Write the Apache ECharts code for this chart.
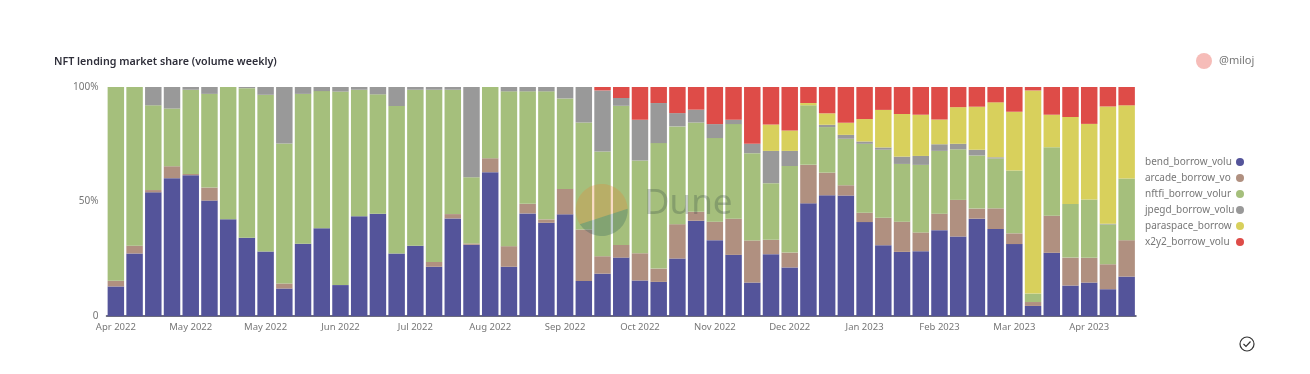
<!DOCTYPE html>
<html><head><meta charset="utf-8">
<style>html,body{margin:0;padding:0;background:#fff}#c{width:1310px;height:374px}</style>
<script src="https://cdn.jsdelivr.net/npm/echarts@6/dist/echarts.min.js"></script>
</head><body><div id="c"></div>
<script>
const months = ["Apr 2022","Apr 2022","Apr 2022","Apr 2022","May 2022","May 2022","May 2022","May 2022","May 2022","Jun 2022","Jun 2022","Jun 2022","Jun 2022","Jul 2022","Jul 2022","Jul 2022","Jul 2022","Aug 2022","Aug 2022","Aug 2022","Aug 2022","Aug 2022","Sep 2022","Sep 2022","Sep 2022","Oct 2022","Oct 2022","Oct 2022","Oct 2022","Oct 2022","Nov 2022","Nov 2022","Nov 2022","Nov 2022","Dec 2022","Dec 2022","Dec 2022","Dec 2022","Jan 2023","Jan 2023","Jan 2023","Jan 2023","Jan 2023","Feb 2023","Feb 2023","Feb 2023","Feb 2023","Mar 2023","Mar 2023","Mar 2023","Mar 2023","Apr 2023","Apr 2023","Apr 2023","Apr 2023"];
const categories = months.map((m,i)=>m+" w"+i);
const bend = [12.9,27.3,54,60.2,61.5,50.4,42.3,34.2,28.2,12,31.6,38.3,13.5,43.6,44.6,27.3,30.7,21.5,42.6,31.1,62.8,21.5,44.8,40.7,44.4,15.3,18.5,25.5,15.5,14.9,25.1,41.6,33.1,26.7,14.6,27,21.2,49.2,52.7,52.6,41,30.9,28,28.3,37.5,34.7,42.5,38,31.4,4.4,27.6,13.3,14.6,11.7,17.2];
const arcade = [2.5,3.4,1,5.2,0.5,5.7,0,0,0,2.2,0,0,0,0,0,0,0,2.1,1.9,0.6,6.1,9,4.2,1.5,11.1,22.5,7.6,5.5,11.9,5.8,15,3.9,8.1,15.8,18.4,6.3,6.5,16.8,9.9,4.5,4.1,12,13.2,8.2,7.2,16,4.4,9,4.7,1.7,16.2,12.2,10.8,10.9,15.9];
const nftfi = [84.6,69.3,37,25.2,36.8,40.9,57.7,65.3,68.4,61.1,65.4,59.9,84.5,55.2,52.2,64.4,68.1,75.2,54.3,28.9,31.1,67.6,49.1,55.9,39.5,46.7,45.7,60.8,40.5,54.8,42.7,39,36.5,41.3,38.1,24.7,37.8,26,19.9,20.3,30.1,29.7,25.2,29.5,27.4,22.1,23.2,21.8,27.4,3.7,29.9,23.4,25.5,17.4,26.9];
const jpegd = [0,0,8,9.4,1.2,3,0,0.5,3.4,24.7,3,1.8,2,1.2,3.2,8.3,1.2,1.2,1.2,39.4,0,1.9,1.9,1.9,5,15.5,26.7,3.4,17.8,17.5,5.8,5.6,6.1,1.9,4.1,14.1,6.6,0,1,1.7,1,1,3.2,3.9,2.9,2.4,2.5,0.5,0,0,0,0,0,0.3,0];
const paraspace = [0,0,0,0,0,0,0,0,0,0,0,0,0,0,0,0,0,0,0,0,0,0,0,0,0,0,0,0,0,0,0,0,0,0,0,11.5,8.9,1,5,5.3,9.8,16.4,18.6,18,10.8,16,18.8,24,25.7,88.7,14.2,38,33,51.2,32];
const x2y2 = [0,0,0,0,0,0,0,0,0,0,0,0,0,0,0,0,0,0,0,0,0,0,0,0,0,0,1.5,4.8,14.3,7,11.4,9.9,16.2,14.3,24.8,16.4,19,7,11.5,15.6,14,10,11.8,12.1,14.2,8.8,8.6,6.7,10.8,1.5,12.1,13.1,16.1,8.5,8];
const seriesNames = ["bend_borrow_volume","arcade_borrow_volume","nftfi_borrow_volume","jpegd_borrow_volume","paraspace_borrow_volume","x2y2_borrow_volume"];
const legendLabels = {"bend_borrow_volume":"bend_borrow_volu","arcade_borrow_volume":"arcade_borrow_vo","nftfi_borrow_volume":"nftfi_borrow_volur","jpegd_borrow_volume":"jpegd_borrow_volu","paraspace_borrow_volume":"paraspace_borrow","x2y2_borrow_volume":"x2y2_borrow_volu"};
const seriesValues = [bend,arcade,nftfi,jpegd,paraspace,x2y2];
const colors = ["#54549a","#b09080","#a5bf7c","#999999","#d8d05c","#de4c48"];
const yTicks = {0:"0",50:"50%",100:"100%"};

function arcPts(cx,cy,r,a0,a1){
  const pts=[];
  for(let a=a0;a<=a1;a+=4){const t=a*Math.PI/180;pts.push([cx+r*Math.cos(t),cy+r*Math.sin(t)]);}
  const t=a1*Math.PI/180;pts.push([cx+r*Math.cos(t),cy+r*Math.sin(t)]);
  return pts;
}

const chart = echarts.init(document.getElementById('c'),null,{renderer:'canvas'});
chart.setOption({
  animation:false,
  color:colors,
  title:{text:"NFT lending market share (volume weekly)",left:54,top:56,padding:0,
    textStyle:{fontFamily:"Noto Sans",fontSize:10.7,fontWeight:600,color:"#2f2f3a"}},
  legend:{orient:'vertical',left:1145,top:157,padding:0,align:'right',icon:'circle',itemWidth:8,itemHeight:8,itemGap:6,itemStyle:{borderWidth:0},
    data:seriesNames,selectedMode:false,
    formatter:n=>"{a|"+legendLabels[n]+"}",
    textStyle:{rich:{a:{width:86,align:'left',fontFamily:"Noto Sans",fontSize:10,color:"#777",lineHeight:12}}}},
  grid:{left:106.5,width:1029.5,top:87,height:229,containLabel:false},
  xAxis:{type:'category',data:categories,
    axisTick:{show:false},
    axisLine:{lineStyle:{color:"#3b3b55",width:1.5}},
    axisLabel:{interval:3,margin:6,fontFamily:"Noto Sans",fontSize:9.5,color:"#777",formatter:v=>v.split(" w")[0]}},
  yAxis:{type:'value',min:0,max:100,interval:50,splitLine:{show:false},axisLine:{show:false},axisTick:{show:false},
    axisLabel:{margin:8,fontFamily:"Noto Sans",fontSize:10,color:"#777",formatter:v=>yTicks[v]}},
  series:seriesValues.map((d,i)=>({name:seriesNames[i],type:'bar',stack:'share',data:d,barCategoryGap:'12%'})),
  graphic:[
    {type:'polygon',z:10,shape:{points:arcPts(601.7,210,26,147,357)},style:{fill:"rgba(232,130,50,0.28)"}},
    {type:'polygon',z:10,shape:{points:arcPts(601.7,210,26,-3,147)},style:{fill:"rgba(40,90,90,0.28)"}},
    {type:'text',z:10,left:644,top:187,style:{text:"Dune",fontFamily:"Noto Sans",fontSize:35,fill:"rgba(40,60,60,0.25)"}},
    {type:'circle',z:10,shape:{cx:1204,cy:61,r:8},style:{fill:"#f6bcb8"}},
    {type:'text',z:10,left:1219,top:55,style:{text:"@miloj",fontFamily:"Noto Sans",fontSize:11,fill:"#777"}},
    {type:'circle',z:10,shape:{cx:1247,cy:344,r:7},style:{fill:"none",stroke:"#333",lineWidth:1.2}},
    {type:'polyline',z:10,shape:{points:[[1243.5,344],[1246,346.5],[1250.5,341.5]]},style:{fill:"none",stroke:"#333",lineWidth:1.2}}
  ]
});
</script></body></html>
